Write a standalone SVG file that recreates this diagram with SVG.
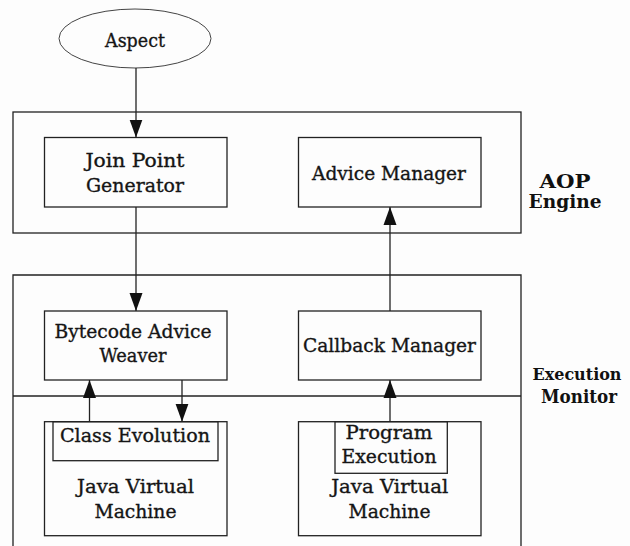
<svg xmlns="http://www.w3.org/2000/svg" width="630" height="546" viewBox="0 0 630 546">
  <defs>
    <marker id="arrow" markerUnits="userSpaceOnUse" markerWidth="18" markerHeight="14" viewBox="0 0 18 14" refX="18" refY="7" orient="auto">
      <path d="M0,0.5 L18,7 L0,13.5 Z" fill="#111"/>
    </marker>
    <style>
      .box { fill: none; stroke: #222; stroke-width: 1.3; }
      .edge { fill: none; stroke: #222; stroke-width: 1.3; marker-end: url(#arrow); }
      .lbl { font-family: "DejaVu Serif", "Liberation Serif", serif; font-size: 19px; fill: #151515; stroke: #151515; stroke-width: 0.35; text-anchor: middle; }
      .grp { font-family: "DejaVu Serif", "Liberation Serif", serif; font-size: 18.5px; font-weight: bold; fill: #111; text-anchor: middle; }
    </style>
  </defs>
  <rect width="630" height="546" fill="#fdfdfd"/>

  <!-- AOP Engine container -->
  <g id="aop-engine">
    <rect class="box" x="13" y="112" width="508" height="121"/>
    <text class="grp" x="565" y="188" textLength="51" lengthAdjust="spacingAndGlyphs">AOP</text>
    <text class="grp" x="565" y="208" textLength="73" lengthAdjust="spacingAndGlyphs">Engine</text>
  </g>

  <!-- Execution Monitor container (open at the bottom edge) -->
  <g id="execution-monitor">
    <path class="box" d="M13,547 V275 H521 V547"/>
    <line class="box" x1="13" y1="396" x2="521" y2="396"/>
    <text class="grp" x="577" y="380" style="font-size:17px" textLength="89" lengthAdjust="spacingAndGlyphs">Execution</text>
    <text class="grp" x="579" y="403" textLength="76" lengthAdjust="spacingAndGlyphs">Monitor</text>
  </g>

  <g id="aspect">
    <ellipse cx="135" cy="38.5" rx="76" ry="29.5" fill="none" stroke="#444" stroke-width="1"/>
    <text class="lbl" x="135" y="46.5" textLength="60" lengthAdjust="spacingAndGlyphs">Aspect</text>
  </g>

  <g id="join-point-generator">
    <rect class="box" x="44.5" y="137.5" width="182.5" height="69.5"/>
    <text class="lbl" x="135" y="166.5" textLength="99" lengthAdjust="spacingAndGlyphs">Join Point</text>
    <text class="lbl" x="135" y="191.5" textLength="98" lengthAdjust="spacingAndGlyphs">Generator</text>
  </g>

  <g id="advice-manager">
    <rect class="box" x="298.5" y="137.5" width="182.5" height="69.5"/>
    <text class="lbl" x="389" y="180" textLength="154" lengthAdjust="spacingAndGlyphs">Advice Manager</text>
  </g>

  <g id="bytecode-advice-weaver">
    <rect class="box" x="44.5" y="311" width="182.5" height="69"/>
    <text class="lbl" x="133" y="338" textLength="157" lengthAdjust="spacingAndGlyphs">Bytecode Advice</text>
    <text class="lbl" x="133" y="362" textLength="67" lengthAdjust="spacingAndGlyphs">Weaver</text>
  </g>

  <g id="callback-manager">
    <rect class="box" x="298.5" y="311" width="182.5" height="69"/>
    <text class="lbl" x="389.5" y="351.5" textLength="173" lengthAdjust="spacingAndGlyphs">Callback Manager</text>
  </g>

  <g id="jvm-left">
    <rect class="box" x="44.5" y="421.7" width="182.5" height="114"/>
    <text class="lbl" x="135.5" y="493.3" textLength="117" lengthAdjust="spacingAndGlyphs">Java Virtual</text>
    <text class="lbl" x="135.5" y="518.3" textLength="82" lengthAdjust="spacingAndGlyphs">Machine</text>
  </g>

  <g id="class-evolution">
    <rect class="box" x="53" y="421.7" width="165" height="39"/>
    <text class="lbl" x="135" y="441.7" textLength="150" lengthAdjust="spacingAndGlyphs">Class Evolution</text>
  </g>

  <g id="jvm-right">
    <rect class="box" x="298.5" y="421.7" width="182.5" height="114"/>
    <text class="lbl" x="389.7" y="493.3" textLength="117" lengthAdjust="spacingAndGlyphs">Java Virtual</text>
    <text class="lbl" x="389.5" y="518.3" textLength="82" lengthAdjust="spacingAndGlyphs">Machine</text>
  </g>

  <g id="program-execution">
    <rect class="box" x="335" y="421.7" width="112.3" height="51.6"/>
    <text class="lbl" x="389" y="439.3" textLength="87" lengthAdjust="spacingAndGlyphs">Program</text>
    <text class="lbl" x="389" y="463.3" textLength="95" lengthAdjust="spacingAndGlyphs">Execution</text>
  </g>

  <!-- connectors -->
  <g id="connectors">
    <line class="edge" x1="136" y1="68" x2="136" y2="137.5"/>
    <line class="edge" x1="136" y1="207" x2="136" y2="311"/>
    <line class="edge" x1="390" y1="311" x2="390" y2="207"/>
    <line class="edge" x1="390" y1="421.7" x2="390" y2="380"/>
    <line class="edge" x1="89.5" y1="421.7" x2="89.5" y2="380"/>
    <line class="edge" x1="182" y1="380" x2="182" y2="421.7"/>
  </g>
</svg>
